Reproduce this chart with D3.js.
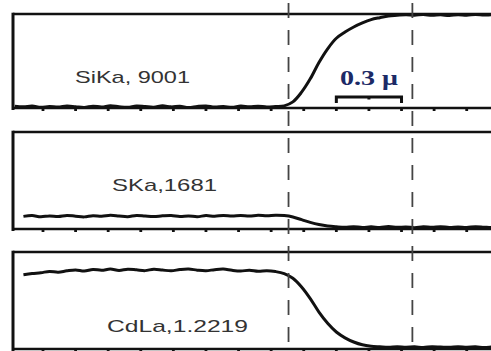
<!DOCTYPE html>
<html>
<head>
<meta charset="utf-8">
<script src="https://cdn.jsdelivr.net/npm/d3@7"></script>
<style>
  html, body { margin: 0; padding: 0; background: #fff; }
  svg { display: block; }
</style>
</head>
<body>
<svg id="chart" width="491" height="351"></svg>
<script>
// Line-scan profile positions (micrometres along the scan)
const positions = [0.02,0.06,0.10,0.14,0.18,0.22,0.26,0.30,0.34,0.38,0.42,0.46,0.50,0.54,0.58,0.62,0.66,0.70,0.74,0.78,
  0.82,0.86,0.90,0.94,0.98,1.02,1.06,1.10,1.14,1.18,1.22,1.26,1.30,1.34,1.38,1.42,1.46,1.50,1.54,1.58,
  1.62,1.66,1.70,1.74,1.78,1.82,1.86,1.90,1.94,1.98,2.02,2.06,2.10,2.14,2.18,2.22,2.26];

// Normalised X-ray intensities (% of panel range)
const siKa = [1.8,1.2,2.0,0.8,1.6,1.0,2.2,1.4,0.6,1.9,1.1,2.4,1.3,0.7,2.1,1.5,0.9,2.3,1.2,1.8,
  0.6,1.7,2.2,1.0,1.6,0.8,2.0,1.3,1.9,1.1,1.6,2.3,6.5,16.8,31,48.4,63,74.2,80.8,86.2,
  90.5,94,96.1,97.9,98.6,99.2,98.8,99.4,98.6,99.1,98.4,99.3,98.7,99.5,98.9,99.2,98.6];
const sKa = [null,13.0,13.8,12.6,13.5,12.9,14.0,13.2,12.5,13.7,13.1,14.1,13.4,12.7,13.9,13.3,12.8,13.6,14.0,13.0,
  13.5,12.7,13.8,13.2,14.0,13.4,13.9,13.3,14.2,13.6,14.1,13.8,12.4,9.6,6.8,4.6,3.1,2.3,1.8,2.4,
  1.5,2.2,1.6,2.5,1.7,2.1,1.4,2.3,1.8,2.4,1.5,2.0,1.6,2.4,1.9,1.5,2.2];
const cdLa = [null,76.5,77.8,78.6,80.0,79.2,80.6,81.5,80.4,82.0,81.2,82.4,81.0,82.2,81.6,80.8,82.3,81.4,80.6,81.9,
  82.5,81.3,80.7,81.8,82.4,81.1,80.4,81.2,80.1,80.6,79.8,77.8,73,64,52,38,26.5,17.5,11.5,7.2,
  4.3,2.9,2.3,1.8,2.4,1.9,2.2,1.6,2.3,2.0,1.7,2.4,1.9,2.2,1.6,2.1,2.3];

const seriesLabels = ["SiKa, 9001", "SKa,1681", "CdLa,1.2219"];
const interfaces = [1.28, 1.85];          // dashed boundary positions, µm
const tickValues = [0.15,0.30,0.45,0.60,0.75,0.90,1.05,1.20,1.35,1.50,1.65,1.80,1.95,2.10];
const scaleBar = { from: 1.5, to: 1.8, label: "0.3 μ" };

const svg = d3.select("#chart");
const W = 491, H = 351;
const frameLeft = 13;

const x = d3.scaleLinear().domain([0, 2.25]).range([10.4, 499.3]);

const panels = [
  { top: 14,  bottom: 108, values: siKa, label: seriesLabels[0], lx: 132.5, ly: 83, lw: 115 },
  { top: 132, bottom: 229, values: sKa,  label: seriesLabels[1], lx: 164.5, ly: 191, lw: 105 },
  { top: 252, bottom: 349, values: cdLa, label: seriesLabels[2], lx: 177.5, ly: 332, lw: 141 }
];

panels.forEach(p => {
  const y = d3.scaleLinear().domain([0, 100]).range([p.bottom, p.top]);
  const g = svg.append("g");

  // frame: top, bottom and left edges
  g.append("line").attr("x1", frameLeft).attr("x2", W + 5)
    .attr("y1", p.top).attr("y2", p.top)
    .attr("stroke", "#111").attr("stroke-width", 2.6);
  g.append("line").attr("x1", frameLeft).attr("x2", W + 5)
    .attr("y1", p.bottom).attr("y2", p.bottom)
    .attr("stroke", "#111").attr("stroke-width", 2.6);
  g.append("line").attr("x1", frameLeft).attr("x2", frameLeft)
    .attr("y1", p.top - 1.3).attr("y2", p.bottom + 2)
    .attr("stroke", "#111").attr("stroke-width", 3);

  // bottom axis ticks
  g.selectAll("line.tick").data(tickValues).enter().append("line")
    .attr("class", "tick")
    .attr("x1", d => x(d)).attr("x2", d => x(d))
    .attr("y1", p.bottom).attr("y2", p.bottom + 3)
    .attr("stroke", "#111").attr("stroke-width", 2.8);

  // profile curve
  const line = d3.line()
    .defined((d, i) => p.values[i] != null)
    .x(d => x(d))
    .y((d, i) => y(p.values[i]))
    .curve(d3.curveCatmullRom.alpha(0.5));
  g.append("path").datum(positions)
    .attr("d", line)
    .attr("fill", "none")
    .attr("stroke", "#111")
    .attr("stroke-width", 3)
    .attr("stroke-linejoin", "round");

  g.append("text")
    .attr("x", p.lx).attr("y", p.ly)
    .attr("text-anchor", "middle")
    .attr("font-family", "Liberation Sans, Arial, sans-serif")
    .attr("font-size", 17)
    .attr("fill", "#333")
    .attr("textLength", p.lw)
    .attr("lengthAdjust", "spacingAndGlyphs")
    .text(p.label);
});

// dashed interface markers across all panels
svg.selectAll("line.iface").data(interfaces).enter().append("line")
  .attr("class", "iface")
  .attr("x1", d => x(d)).attr("x2", d => x(d))
  .attr("y1", 3).attr("y2", H)
  .attr("stroke", "#444").attr("stroke-width", 1.8)
  .attr("stroke-dasharray", "15,12");

// scale bar
const sb = svg.append("g");
const sbY = 97;
sb.append("path")
  .attr("d", `M${x(scaleBar.from)},${sbY + 6}V${sbY}H${x(scaleBar.to)}V${sbY + 6}`)
  .attr("fill", "none").attr("stroke", "#111").attr("stroke-width", 3);
sb.append("line")
  .attr("x1", x((scaleBar.from + scaleBar.to) / 2)).attr("x2", x((scaleBar.from + scaleBar.to) / 2))
  .attr("y1", sbY).attr("y2", sbY + 2.5)
  .attr("stroke", "#111").attr("stroke-width", 3);
sb.append("text")
  .attr("x", x((scaleBar.from + scaleBar.to) / 2)).attr("y", 85)
  .attr("text-anchor", "middle")
  .attr("font-family", "Liberation Serif, Times New Roman, serif")
  .attr("font-weight", "bold")
  .attr("font-size", 20)
  .attr("fill", "#1c2a66")
  .attr("textLength", 58)
  .attr("lengthAdjust", "spacingAndGlyphs")
  .text(scaleBar.label);
</script>
</body>
</html>
